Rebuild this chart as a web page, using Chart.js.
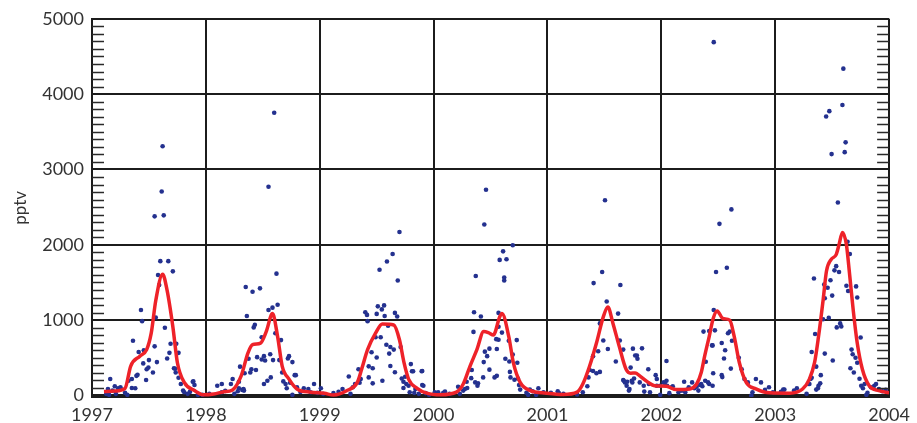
<!DOCTYPE html>
<html>
<head>
<meta charset="utf-8">
<script src="https://cdn.jsdelivr.net/npm/chart.js@4"></script>
<style>
  html, body { margin: 0; padding: 0; background: #fff; }
  #wrap { width: 917px; height: 423px; }
</style>
</head>
<body>
<div id="wrap"><canvas id="chart"></canvas></div>
<script>
// tick labels
const yearTicks = [1997, 1998, 1999, 2000, 2001, 2002, 2003, 2004];
const pptvTicks = [0, 1000, 2000, 3000, 4000, 5000];

// individual samples (decimal year, pptv), grouped by year
const obsTime = [
  1997.612, 1997.55, 1997.63, 1997.62, 1997.60, 1997.67, 1997.71, 1997.58, 1997.59, 1997.43, 1997.44, 1997.56, 1997.36, 1997.64, 1997.69, 1997.74,
  1997.55, 1997.41, 1997.455, 1997.50, 1997.68, 1997.76, 1997.66, 1997.45, 1997.57, 1997.495, 1997.48, 1997.535, 1997.40, 1997.39, 1997.475,
  1997.72, 1997.73, 1997.735, 1997.76, 1997.35, 1997.32, 1997.38, 1997.35, 1997.16, 1997.20, 1997.23, 1997.25, 1997.14, 1997.18, 1997.125,
  1997.15, 1997.21, 1997.29, 1997.31, 1997.78, 1997.80, 1997.81, 1997.84, 1997.89, 1997.90, 1997.86, 1997.93, 1997.97, 1997.885,
  1998.60, 1998.55, 1998.62, 1998.35, 1998.475, 1998.41, 1998.63, 1998.585, 1998.55, 1998.36, 1998.43, 1998.42, 1998.61, 1998.66, 1998.49,
  1998.375, 1998.45, 1998.49, 1998.51, 1998.52, 1998.565, 1998.59, 1998.645, 1998.72, 1998.76, 1998.30, 1998.40, 1998.44, 1998.34, 1998.39,
  1998.67, 1998.57, 1998.54, 1998.51, 1998.78, 1998.68, 1998.70, 1998.71, 1998.74, 1998.76, 1998.235, 1998.29, 1998.32, 1998.335, 1998.28,
  1998.25, 1998.22, 1998.10, 1998.14, 1998.03, 1998.14, 1998.17, 1998.29, 1998.33, 1998.80, 1998.86, 1998.90, 1998.95, 1999.01, 1998.92,
  1998.83, 1998.98, 1999.03, 1998.73, 1998.79,
  1999.255, 1999.34, 1999.29, 1999.20, 1999.12, 1999.165, 1999.27, 1999.35, 1999.31, 1999.70, 1999.64, 1999.59, 1999.525, 1999.685, 1999.51,
  1999.565, 1999.545, 1999.50, 1999.57, 1999.40, 1999.415, 1999.42, 1999.66, 1999.68, 1999.60, 1999.49, 1999.535, 1999.455, 1999.50, 1999.585,
  1999.62, 1999.65, 1999.61, 1999.71, 1999.43, 1999.465, 1999.62, 1999.66, 1999.43, 1999.36, 1999.465, 1999.55, 1999.80, 1999.90, 1999.81,
  1999.72, 1999.75, 1999.735, 1999.76, 1999.78, 1999.735, 1999.79, 1999.84, 1999.90, 1999.87, 1999.83, 1999.82, 1999.895, 1999.91,
  2000.46, 2000.445, 2000.58, 2000.37, 2000.355, 2000.415, 2000.57, 2000.35, 2000.49, 2000.45, 2000.47, 2000.555, 2000.57, 2000.44, 2000.49,
  2000.435, 2000.535, 2000.555, 2000.335, 2000.33, 2000.365, 2000.385, 2000.39, 2000.295, 2000.26, 2000.215, 2000.23, 2000.14, 2000.085,
  2000.01, 1999.93, 1999.96, 2000.04, 2000.10, 2000.275, 2000.29, 2000.695, 2000.61, 2000.64, 2000.62, 2000.62, 2000.57, 2000.60, 2000.66,
  2000.73, 2000.55, 2000.63, 2000.665, 2000.695, 2000.735, 2000.67, 2000.675, 2000.71, 2000.74, 2000.75, 2000.76, 2000.815, 2000.845,
  2000.87, 2000.92, 2000.965, 2000.83, 2000.90,
  2001.505, 2001.48, 2001.405, 2001.64, 2001.52, 2001.62, 2001.46, 2001.49, 2001.40, 2001.445, 2001.53, 2001.635, 2001.665, 2001.75, 2001.77,
  2001.60, 2001.37, 2001.40, 2001.43, 2001.46, 2001.36, 2001.35, 2001.31, 2001.26, 2001.09, 2001.03, 2001.10, 2001.14, 2001.665, 2001.68,
  2001.695, 2001.72, 2001.74, 2001.76, 2001.83, 2001.79, 2001.785, 2001.73, 2001.885, 2001.95, 2001.67, 2001.70, 2001.745, 2001.81, 2001.715,
  2001.845, 2001.89, 2001.96, 2001.96, 2001.90, 2001.85, 2001.99,
  2002.045, 2002.02, 2002.05, 2002.09, 2002.20, 2002.155, 2002.18, 2002.24, 2002.27, 2002.37, 2002.445, 2002.48, 2002.51, 2002.575, 2002.615,
  2002.46, 2002.46, 2002.42, 2002.47, 2002.585, 2002.60, 2002.45, 2002.53, 2002.56, 2002.62, 2002.55, 2002.68, 2002.39, 2002.455, 2002.53,
  2002.535, 2002.61, 2002.385, 2002.41, 2002.42, 2002.45, 2002.35, 2002.36, 2002.34, 2002.31, 2002.29, 2002.325, 2002.10, 2002.045, 2002.03,
  2002.15, 2002.21, 2002.07, 2001.99, 2002.73, 2002.76, 2002.705, 2002.83, 2002.875, 2002.79, 2002.80, 2002.91, 2002.945,
  2003.598, 2003.59, 2003.475, 2003.447, 2003.618, 2003.61, 2003.495, 2003.55, 2003.635, 2003.655, 2003.535, 2003.52, 2003.56, 2003.34,
  2003.485, 2003.43, 2003.46, 2003.625, 2003.71, 2003.64, 2003.72, 2003.50, 2003.435, 2003.42, 2003.47, 2003.57, 2003.58, 2003.54, 2003.75,
  2003.35, 2003.32, 2003.435, 2003.67, 2003.68, 2003.705, 2003.72, 2003.36, 2003.505, 2003.66, 2003.69, 2003.74, 2003.32, 2003.31, 2003.40,
  2003.395, 2003.38, 2003.375, 2003.29, 2003.275, 2003.19, 2003.165, 2003.08, 2003.05, 2002.98, 2003.755, 2003.77, 2003.785, 2003.81,
  2003.84, 2003.87, 2003.885, 2003.91, 2003.94, 2003.97, 2003.80, 2003.07, 2003.30, 2003.36
];
const obsPptv = [
  2708, 2378, 2391, 3308, 1783, 1783, 1648, 1600, 1465, 1135, 987, 1035, 726, 900, 687, 687,
  652, 578, 600, 470, 566, 566, 491, 426, 443, 370, 348, 305, 274, 261, 205,
  361, 355, 305, 235, 218, 196, 96, 100, 218, 122, 96, 110, 87, 65, 22,
  9, 22, 35, 9, 152, 65, 44, 22, 187, 139, 48, 9, 9, 183,
  3752, 2770, 1617, 1440, 1422, 1378, 1205, 1166, 1135, 1056, 939, 904, 827, 735, 774,
  487, 509, 478, 522, 465, 548, 470, 470, 491, 443, 383, 348, 339, 296, 305,
  305, 240, 196, 152, 270, 187, 152, 96, 170, 9, 218, 96, 74, 65, 57,
  22, 152, 130, 152, 22, 44, 61, 183, 87, 110, 96, 87, 152, 96, 44,
  48, 35, 22, 522, 270,
  253, 348, 110, 87, 31, 48, 22, 170, 152, 2170, 1878, 1778, 1669, 1526, 1183,
  1196, 1143, 1083, 1056, 1105, 1070, 987, 1096, 1048, 926, 774, 774, 574, 504, 674,
  643, 609, 556, 643, 387, 361, 391, 309, 240, 218, 161, 196, 417, 326, 322,
  226, 248, 183, 152, 130, 100, 44, 87, 139, 22, 35, 322, 322, 130,
  2731, 2269, 1800, 1587, 1105, 1048, 1096, 844, 622, 582, 522, 618, 739, 443, 343,
  240, 240, 261, 339, 230, 174, 130, 161, 100, 65, 117, 22, 22, 35,
  44, 31, 9, 44, 52, 87, 183, 1995, 1913, 1809, 1565, 1526, 913, 835, 726,
  735, 748, 487, 452, 543, 435, 313, 240, 209, 226, 139, 78, 35, 78,
  57, 96, 44, 9, 9,
  2591, 1639, 1492, 1466, 1248, 1087, 957, 730, 522, 587, 618, 730, 609, 622, 530,
  452, 339, 326, 296, 313, 240, 122, 44, 13, 57, 35, 31, 22, 205, 174,
  130, 87, 196, 226, 626, 487, 530, 370, 348, 270, 196, 183, 174, 174, 65,
  130, 152, 218, 130, 44, 52, 130,
  457, 174, 130, 109, 183, 65, 65, 109, 174, 848, 665, 1639, 2278, 1696, 2470,
  4690, 1135, 857, 865, 827, 848, 665, 696, 600, 726, 491, 500, 448, 296, 270,
  244, 357, 196, 174, 152, 130, 152, 122, 139, 117, 96, 65, 122, 196, 165,
  44, 44, 31, 9, 218, 174, 348, 218, 174, 0, 44, 74, 110,
  4338, 3856, 3774, 3704, 3360, 3230, 3204, 2561, 2040, 1878, 1717, 1661, 1639, 1552,
  1530, 1474, 1430, 1456, 1448, 1387, 1300, 1326, 1291, 1013, 1030, 957, 917, 904, 770,
  817, 578, 556, 609, 548, 500, 435, 383, 465, 361, 305, 222, 235, 218, 270,
  161, 130, 96, 152, 22, 96, 65, 78, 48, 44, 130, 96, 152, 35,
  110, 130, 152, 87, 57, 74, 9, 78, 152, 78
];

// smoothed seasonal curve
const fitTime = [
  1997.105, 1997.20, 1997.29, 1997.34, 1997.42, 1997.48, 1997.52, 1997.56, 1997.62, 1997.66, 1997.71, 1997.75, 1997.81, 1997.90, 1997.98,
  1998.07, 1998.16, 1998.23, 1998.31, 1998.37, 1998.41, 1998.48, 1998.53, 1998.585, 1998.63, 1998.67, 1998.73, 1998.80, 1998.92,
  1999.04, 1999.12, 1999.24, 1999.33, 1999.37, 1999.42, 1999.49, 1999.55, 1999.65, 1999.70, 1999.74, 1999.78, 1999.855, 1999.94,
  2000.06, 2000.20, 2000.26, 2000.32, 2000.38, 2000.44, 2000.48, 2000.525, 2000.58, 2000.60, 2000.66, 2000.70, 2000.76, 2000.85, 2000.99,
  2001.14, 2001.26, 2001.31, 2001.37, 2001.43, 2001.49, 2001.53, 2001.575, 2001.63, 2001.69, 2001.73, 2001.77, 2001.81, 2001.885, 2001.94,
  2002.045, 2002.13, 2002.25, 2002.31, 2002.35, 2002.38, 2002.42, 2002.455, 2002.49, 2002.54, 2002.60, 2002.64, 2002.685, 2002.745, 2002.83, 2002.95,
  2003.125, 2003.24, 2003.30, 2003.345, 2003.38, 2003.42, 2003.45, 2003.49, 2003.535, 2003.56, 2003.59, 2003.625, 2003.65, 2003.685, 2003.72,
  2003.765, 2003.825, 2003.91, 2004.0
];
const fitPptv = [
  52, 60, 96, 391, 522, 609, 827, 1261, 1609, 1391, 913, 435, 174, 65, 9,
  20, 50, 70, 261, 566, 674, 696, 848, 1087, 782, 391, 218, 87, 44,
  31, 5, 65, 174, 360, 609, 827, 948, 935, 739, 435, 218, 96, 31,
  9, 44, 152, 391, 609, 848, 835, 804, 1043, 1087, 782, 435, 174, 65, 31,
  13, 44, 152, 391, 696, 1043, 1174, 957, 652, 348, 296, 300, 261, 174, 130,
  122, 78, 87, 152, 305, 522, 782, 1022, 1122, 1022, 1000, 782, 435, 174, 87, 35,
  31, 87, 218, 435, 782, 1261, 1652, 1804, 1870, 2000, 2165, 2000, 1652, 1130, 696,
  348, 130, 65, 35
];

const obsPoints = obsTime.map((t, i) => ({ x: t, y: obsPptv[i] }));
const fitPoints = fitTime.map((t, i) => ({ x: t, y: fitPptv[i] }));

const labelFont = { family: 'Lato, "DejaVu Sans", sans-serif', size: 18 };

// short inward ticks every 100 pptv on the left and right frame
const minorTicks = {
  id: 'minorTicks',
  afterDraw(chart) {
    const { ctx, chartArea, scales } = chart;
    ctx.save();
    ctx.strokeStyle = '#2a2a2a';
    ctx.lineWidth = 1.6;
    for (let v = 100; v < 5000; v += 100) {
      if (v % 1000 === 0) continue;
      const y = Math.round(scales.y.getPixelForValue(v)) + 0.5;
      ctx.beginPath();
      ctx.moveTo(chartArea.left, y);
      ctx.lineTo(chartArea.left + 12, y);
      ctx.moveTo(chartArea.right - 12, y);
      ctx.lineTo(chartArea.right, y);
      ctx.stroke();
    }
    ctx.restore();
  }
};

new Chart(document.getElementById('chart'), {
  type: 'scatter',
  data: {
    datasets: [
      {
        type: 'line',
        label: 'fit',
        data: fitPoints,
        borderColor: '#ee2229',
        borderWidth: 3.5,
        pointRadius: 0,
        cubicInterpolationMode: 'monotone',
        fill: false,
        order: 0
      },
      {
        label: 'samples',
        data: obsPoints,
        backgroundColor: '#24318f',
        borderWidth: 0,
        pointRadius: 2.3,
        order: 1
      }
    ]
  },
  options: {
    responsive: true,
    maintainAspectRatio: false,
    animation: false,
    layout: { padding: { top: 13, right: 24, bottom: 0, left: 0 } },
    plugins: { legend: { display: false }, tooltip: { enabled: false } },
    scales: {
      x: {
        type: 'linear',
        min: 1997,
        max: 2004,
        afterBuildTicks: s => { s.ticks = yearTicks.map(v => ({ value: v })); },
        afterFit: s => { s.height = 26; },
        grid: { color: '#1c1c1c', lineWidth: 2, drawTicks: false },
        border: { color: '#1c1c1c', width: 2 },
        ticks: { color: '#333', font: labelFont, padding: 7, maxRotation: 0, callback: v => String(v) }
      },
      y: {
        min: -20,
        max: 5000,
        afterBuildTicks: s => { s.ticks = pptvTicks.map(v => ({ value: v })); },
        afterFit: s => { s.width = 92; },
        grid: { color: '#1c1c1c', lineWidth: 2, drawTicks: false },
        border: { color: '#1c1c1c', width: 2 },
        title: { display: true, text: 'pptv', color: '#333', font: { family: 'Lato, "DejaVu Sans", sans-serif', size: 17 }, padding: { top: 10, bottom: 0 } },
        ticks: { color: '#333', font: labelFont, padding: 8, callback: v => String(v) }
      }
    }
  },
  plugins: [minorTicks]
});
</script>
</body>
</html>
